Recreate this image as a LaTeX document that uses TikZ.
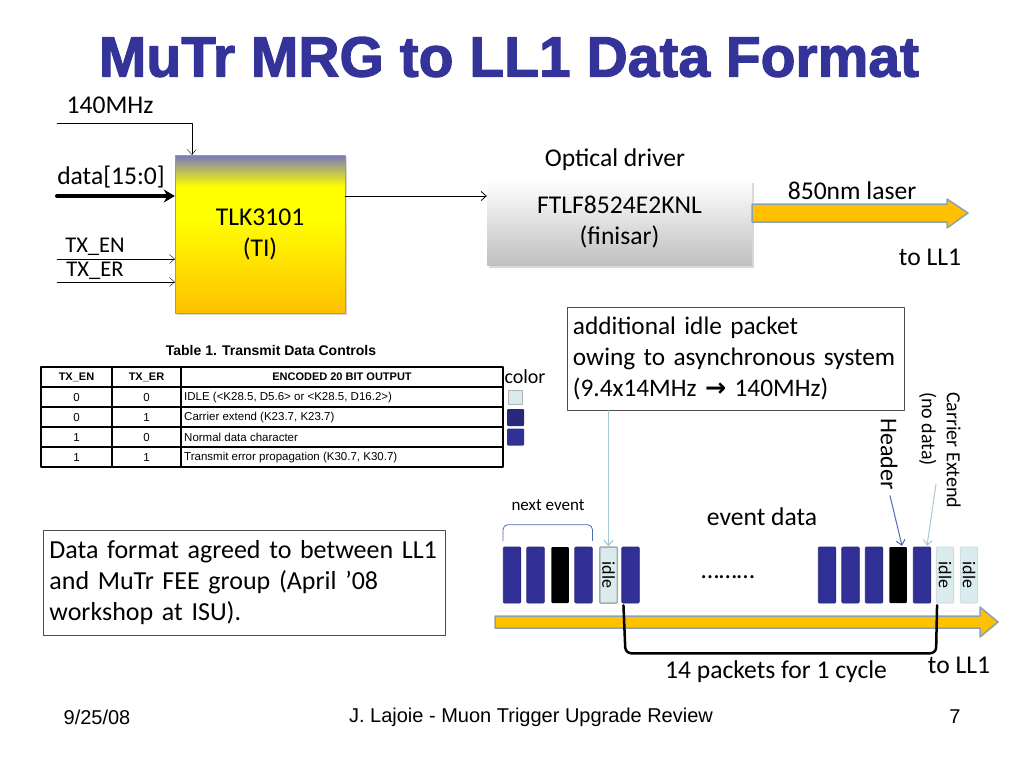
\documentclass[tikz,border=0pt]{standalone}
\usepackage{fontspec}
\setmainfont{Carlito}
\newfontfamily\arialfont{Liberation Sans}
\newfontfamily\titlefont{Liberation Sans}[BoldFeatures={FakeBold=2}]
\newfontfamily\symfont{DejaVu Sans}
\usepackage{xcolor}
\usepackage{tikz}
\usetikzlibrary{arrows.meta, calc, shadows}
\definecolor{titleblue}{RGB}{51,51,153}
\definecolor{tlkblue}{RGB}{120,120,190}
\definecolor{tlkorange}{RGB}{255,192,0}
\definecolor{packblue}{RGB}{48,48,150}
\definecolor{packnavy}{RGB}{40,40,125}
\definecolor{idlefill}{RGB}{218,235,238}
\definecolor{idleedge}{RGB}{165,172,172}
\definecolor{laser}{RGB}{255,192,0}
\definecolor{laseredge}{RGB}{140,160,180}
\definecolor{pointblue}{RGB}{75,110,180}
\definecolor{pointlight}{RGB}{165,200,215}
\pgfdeclareverticalshading{tlkshade}{100bp}{color(0bp)=(tlkorange); color(25bp)=(tlkorange); color(55bp)=(yellow); color(65bp)=(yellow); color(75bp)=(tlkblue); color(100bp)=(tlkblue)}

\begin{document}
\begin{tikzpicture}[x=1pt, y=-1pt, >={Straight Barb[length=5pt,width=9pt]}, line cap=round, line join=round,
	lbl/.style={font=\fontsize{25.6}{31}\selectfont, inner sep=0pt},
	lblbig/.style={font=\fontsize{26}{31}\selectfont},
	lblsmall/.style={font=\fontsize{20}{25}\selectfont, inner sep=0pt},
	lbltx/.style={font=\fontsize{22.5}{23}\selectfont, inner sep=0pt},
	tbl/.style={font=\arialfont\fontsize{11.5}{12}\selectfont, inner sep=0pt},
	tblhead/.style={font=\arialfont\bfseries\fontsize{11}{12}\selectfont, inner sep=0pt},
	packet/.style={minimum width=17.5pt, minimum height=56pt, inner sep=0pt, rounded corners=1pt},
	datapk/.style={packet, fill=packblue, draw=packnavy, line width=0.6pt},
	blackpk/.style={packet, fill=black},
	idlepk/.style={packet, rotate=-90, minimum width=56pt, minimum height=17.5pt, fill=idlefill, font=\fontsize{18}{18}\selectfont},
	laserbar/.style={fill=laser, draw=laseredge, line width=1.5pt}]
	\fill[white] (0,0) rectangle (1024,768);
	\useasboundingbox (0,0) rectangle (1024,768);

	\node[font=\titlefont\bfseries\fontsize{57}{60}\selectfont, text=titleblue] (title) at (509,57) {MuTr MRG to LL1 Data Format};

	\node[shading=tlkshade, draw=tlkblue!80, minimum width=170pt, minimum height=158pt, align=center, lbl, drop shadow={opacity=0.3, shadow xshift=2pt, shadow yshift=-2pt}] (tlk) at (260,234) {TLK3101\\(TI)};
	\node[top color=white, bottom color=gray!50, minimum width=265pt, minimum height=85pt, align=center, lbl, drop shadow={opacity=0.3, shadow xshift=2pt, shadow yshift=-3pt}] (opt) at (619.5,222.5) {FTLF8524E2KNL\\(finisar)};
	\node[lbl] (optlbl) at (615,160) {Optical driver};

	\coordinate (clk) at (57,123);
	\coordinate (din) at (57,196);
	\coordinate (en) at (57,259);
	\coordinate (er) at (57,282);
	\node[lbl] (clklbl) at (110,105) {140MHz};
	\node[lbl] (dinlbl) at (111,177) {data[15:0]};
	\node[lbltx] (enlbl) at (95,247) {TX\_EN};
	\node[lbltx] (erlbl) at (95,271) {TX\_ER};
	\draw[->] (clk) -| ($(tlk.north west)+(17,0)$);
	\draw[line width=4pt, -{Stealth[length=11pt,width=13pt]}] (din) -- (din -| tlk.west);
	\draw[->] (en) -- (en -| tlk.west);
	\draw[->] (er) -- (er -| tlk.west);
	\draw[->, thick] (tlk.east |- din) -- (opt.west |- din);

	\draw[laserbar] (752,204) -- (947,204) -- (947,199) -- (968,213) -- (947,228) -- (947,222) -- (752,222) -- cycle;
	\node[lbl] (laserlbl) at (852,191) {850nm laser};
	\node[lbl] (to1) at (930,257) {to LL1};

	\node[font=\arialfont\bfseries\fontsize{14}{14}\selectfont] (tbltitle) at (271,350) {Table 1. Transmit Data Controls};
	\draw[line width=2pt] (41,367) rectangle (503,467);
	\foreach \y in {387,407,427,447}
		\draw[line width=1.2pt] (41,\y) -- (503,\y);
	\foreach \x in {112,181}
		\draw[line width=1.2pt] (\x,367) -- (\x,467);
	\node[tblhead] at (76.5,377) {TX\_EN};
	\node[tblhead] at (146.5,377) {TX\_ER};
	\node[tblhead] at (342,377) {ENCODED 20 BIT OUTPUT};
	\foreach \en/\er/\out [count=\i] in {0/0/{IDLE (<K28.5, D5.6> or <K28.5, D16.2>)}, 0/1/{Carrier extend (K23.7, K23.7)}, 1/0/{Normal data character}, 1/1/{Transmit error propagation (K30.7, K30.7)}}{
		\node[tbl] at (76.5,377.5+20*\i) {\en};
		\node[tbl] at (146.5,377.5+20*\i) {\er};
		\node[tbl, anchor=west] at (184,377.5+20*\i) {\out};
	}
	\node[lblsmall] (colorlbl) at (525,377) {color};
	\node[draw=gray!60, fill=idlefill, line width=1.5pt, minimum size=14pt, inner sep=0pt] (cidle) at (515.5,397.5) {};
	\node[fill=packnavy, rounded corners=1pt, minimum size=17pt, inner sep=0pt] (cext) at (515.5,417.5) {};
	\node[fill=packblue, rounded corners=1pt, minimum size=17pt, inner sep=0pt] (cdata) at (515.5,437) {};

	\node[draw=black!70, line width=0.8pt, anchor=north west, text width=326pt, minimum height=103pt, inner xsep=5.5pt, align=left, font=\fontsize{25.3}{31}\selectfont] (idlenote) at (567,307) {\mbox{additional idle packet}\\\mbox{owing to asynchronous system}\\\mbox{(9.4x14MHz {\symfont\bfseries →} 140MHz)}};
	\node[draw=black!70, line width=0.8pt, anchor=north west, text width=390pt, minimum height=105pt, inner xsep=6pt, align=left, lblbig] (agree) at (43,530) {Data format agreed to between LL1\\and MuTr FEE group (April ’08\\workshop at ISU).};

	\foreach \nm/\x/\sty in {n1/512/datapk, n2/535.5/datapk, n3/560/blackpk, n4/583.5/datapk, d1/630.5/datapk, m1/827/datapk, m2/850.5/datapk, m3/874/datapk, hd/898/blackpk, ce/922/datapk}
		\node[\sty] (\nm) at (\x,575) {};
	\node[idlepk, draw=idleedge, line width=1.5pt] (idleA) at (608.5,575) {idle};
	\node[idlepk, draw=idlefill!80!gray, line width=0.6pt] (idleB) at (945,575) {idle};
	\node[idlepk, draw=idlefill!80!gray, line width=0.6pt] (idleC) at (969,575) {idle};

	\draw[pointblue, line width=0.8pt, rounded corners=5pt] ($(n1.north west)+(0,-6)$) -- ($(n1.north west)+(0,-22)$) -- ($(n4.north east)+(0,-22)$) -- ($(n4.north east)+(0,-6)$);
	\node[font=\fontsize{17}{17}\selectfont] (nextlbl) at (548,505) {next event};
	\node[lbl] (evlbl) at (762,517) {event data};
	\node[lbl] (dots) at (728,577) {………};

	\draw[->, pointlight, line width=1.2pt] (idlenote.south -| idleA.west) -- (idleA.west);
	\node[rotate=-90, anchor=west, font=\fontsize{24}{24}\selectfont, inner sep=0pt] (hdr) at (889,418) {Header};
	\node[rotate=-90, anchor=north west, align=left, font=\fontsize{20}{25}\selectfont, inner sep=0pt] (car) at (961,392) {Carrier Extend\\(no data)};
	\coordinate (carend) at (936,484);
	\draw[->, pointblue, line width=1pt] ($(hdr.east)+(1,6)$) -- ($(hd.north)+(4,-1)$);
	\draw[->, pointlight, line width=1pt] (carend) -- ($(ce.north)+(5,-1)$);

	\draw[laserbar] (495,616) -- (980,616) -- (980,607) -- (998,622) -- (980,637) -- (980,628) -- (495,628) -- cycle;
	\draw[line width=2.5pt, rounded corners=6pt] ($(d1.south west)+(2,2)$) -- ($(d1.south west)+(4,50)$) -- ($(ce.south east)+(5,50)$) -- ($(ce.south east)+(6,2)$);
	\node[lbl] (cyclbl) at (776,672) {14 packets for 1 cycle};
	\node[lbl] (to2) at (959,665) {to LL1};

	\node[font=\arialfont\fontsize{20}{20}\selectfont] (date) at (97,717) {9/25/08};
	\node[font=\arialfont\fontsize{20}{20}\selectfont] (foot) at (531,717) {J. Lajoie - Muon Trigger Upgrade Review};
	\node[font=\arialfont\fontsize{20}{20}\selectfont] (page) at (955,717) {7};
\end{tikzpicture}
\end{document}
